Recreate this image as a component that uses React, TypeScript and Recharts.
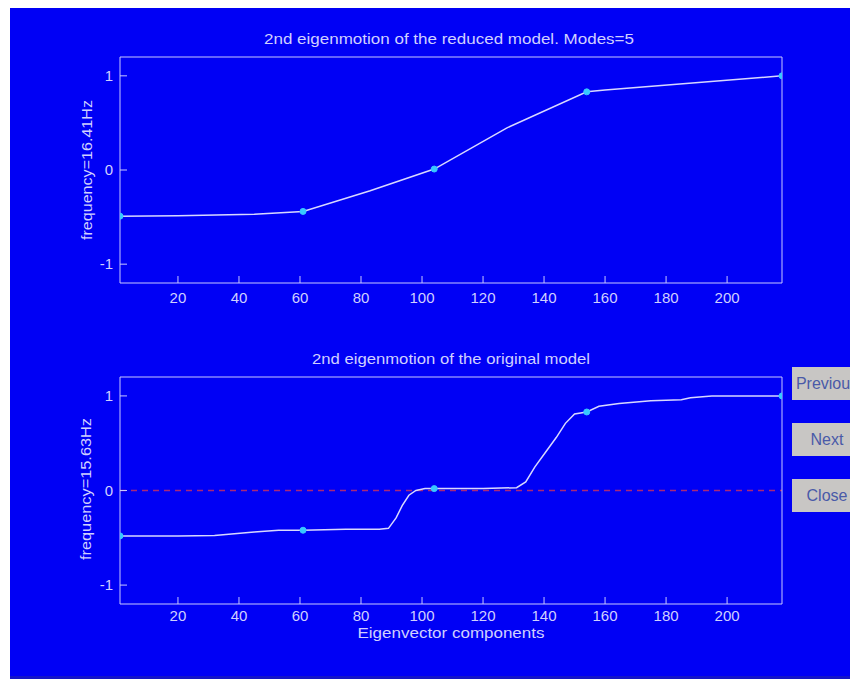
import { LineChart, Line, XAxis, YAxis, ReferenceLine } from "recharts";

const xTicks = [20, 40, 60, 80, 100, 120, 140, 160, 180, 200];
const yTicks = [-1, 0, 1];

// node positions (the 5 retained modes)
const nodeX = [1, 61, 104, 154, 218];
const reducedNodeY = [-0.49, -0.44, 0.01, 0.83, 1.0];
const originalNodeY = [-0.48, -0.42, 0.02, 0.83, 1.0];

// reduced model eigenvector
const reducedX = [1, 20, 45, 61, 83, 104, 128, 154, 160, 218];
const reducedY = [-0.49, -0.485, -0.47, -0.44, -0.22, 0.01, 0.45, 0.83, 0.85, 1.0];

// original model eigenvector
const originalX = [
  1, 20, 32, 45, 53, 61, 75, 86, 89, 91.5, 93.5, 95.7, 98, 101, 104, 120, 131, 134, 137, 140.6,
  144, 147, 150, 154, 158, 164.6, 175, 185, 188, 195, 218,
];
const originalY = [
  -0.48, -0.48, -0.475, -0.44, -0.42, -0.42, -0.41, -0.41, -0.4, -0.29, -0.16, -0.05, 0.0, 0.02,
  0.02, 0.02, 0.03, 0.09, 0.25, 0.41, 0.56, 0.71, 0.81, 0.83, 0.89, 0.92, 0.95, 0.96, 0.98, 1.0, 1.0,
];

const BG = "#0000f5";
const AXIS = "#c8c8ff";
const TEXT = "#d0d0ff";
const LINE = "#d8d8ff";
const NODE = "#38c8ff";
const ZERO = "#a82878";
const FONT = "'Liberation Sans', Arial, sans-serif";

const toPoints = (xs: number[], ys: number[]) => xs.map((x, i) => ({ x, y: ys[i] }));

function Panel({
  line,
  nodes,
  top,
  bottomMargin,
  labelGap,
  zeroLine,
}: {
  line: { x: number; y: number }[];
  nodes: { x: number; y: number }[];
  top: number;
  bottomMargin: number;
  labelGap: number;
  zeroLine?: boolean;
}) {
  const tickStyle = { fill: TEXT, fontSize: 15, fontFamily: FONT };
  return (
    <div style={{ position: "absolute", left: 0, top }}>
      <LineChart width={848} height={320} margin={{ top: 50, left: 80, right: 75, bottom: bottomMargin }}>
        <XAxis
          type="number"
          dataKey="x"
          domain={[1, 218]}
          ticks={xTicks}
          allowDataOverflow
          tickSize={-7}
          tickMargin={labelGap}
          height={30}
          stroke={AXIS}
          tick={tickStyle}
        />
        <XAxis
          xAxisId="top"
          orientation="top"
          type="number"
          dataKey="x"
          domain={[1, 218]}
          ticks={xTicks}
          allowDataOverflow
          tickSize={-7}
          tick={false}
          height={1}
          stroke={AXIS}
        />
        <YAxis
          type="number"
          domain={[-1.2, 1.2]}
          ticks={yTicks}
          allowDataOverflow
          tickSize={-7}
          tickMargin={14}
          width={30}
          stroke={AXIS}
          tick={tickStyle}
        />
        <YAxis
          yAxisId="right"
          orientation="right"
          type="number"
          domain={[-1.2, 1.2]}
          ticks={yTicks}
          allowDataOverflow
          tickSize={-7}
          tick={false}
          width={1}
          stroke={AXIS}
        />
        {zeroLine && <ReferenceLine y={0} stroke={ZERO} strokeWidth={1.5} strokeDasharray="6 5" />}
        <Line
          data={line}
          dataKey="y"
          type="linear"
          stroke={LINE}
          strokeWidth={1.5}
          dot={false}
          isAnimationActive={false}
        />
        <Line
          data={nodes}
          dataKey="y"
          stroke="none"
          dot={{ r: 3, fill: NODE, stroke: NODE, strokeWidth: 1 }}
          isAnimationActive={false}
        />
      </LineChart>
    </div>
  );
}

function Button({ label, top }: { label: string; top: number }) {
  return (
    <div
      style={{
        position: "absolute",
        left: 782,
        top,
        width: 70,
        height: 33,
        background: "#c8c6c4",
        color: "#4a5aa8",
        fontFamily: FONT,
        fontSize: 16,
        lineHeight: "33px",
        textAlign: "center",
        whiteSpace: "nowrap",
      }}
    >
      {label}
    </div>
  );
}

export default function App() {
  return (
    <div
      style={{
        position: "relative",
        left: 2,
        top: -2,
        width: 848,
        height: 673,
        background: BG,
        overflow: "hidden",
        boxSizing: "border-box",
        borderBottom: "3px solid #1414c8",
      }}
    >
      <Panel
        line={toPoints(reducedX, reducedY)}
        nodes={toPoints(nodeX, reducedNodeY)}
        top={0}
        bottomMargin={13}
        labelGap={16}
      />
      <Panel
        line={toPoints(originalX, originalY)}
        nodes={toPoints(nodeX, originalNodeY)}
        top={320}
        bottomMargin={12}
        labelGap={13}
        zeroLine
      />
      <svg
        width={848}
        height={673}
        style={{ position: "absolute", left: 0, top: 0, pointerEvents: "none" }}
        fontFamily={FONT}
        fontSize={15}
        fill={TEXT}
      >
        <text x={439} y={32} textAnchor="middle" dominantBaseline="central" textLength={370} lengthAdjust="spacingAndGlyphs">
          2nd eigenmotion of the reduced model.  Modes=5
        </text>
        <text x={441} y={352} textAnchor="middle" dominantBaseline="central" textLength={278} lengthAdjust="spacingAndGlyphs">
          2nd eigenmotion of the original model
        </text>
        <text x={441} y={626} textAnchor="middle" dominantBaseline="central" textLength={187} lengthAdjust="spacingAndGlyphs">
          Eigenvector components
        </text>
        <text
          x={76}
          y={164}
          textAnchor="middle"
          dominantBaseline="central"
          transform="rotate(-90 76 164)"
          textLength={140}
          lengthAdjust="spacingAndGlyphs"
        >
          frequency=16.41Hz
        </text>
        <text
          x={75}
          y={483}
          textAnchor="middle"
          dominantBaseline="central"
          transform="rotate(-90 75 483)"
          textLength={142}
          lengthAdjust="spacingAndGlyphs"
        >
          frequency=15.63Hz
        </text>
      </svg>
      <Button label="Previous" top={361} />
      <Button label="Next" top={417} />
      <Button label="Close" top={473} />
    </div>
  );
}
